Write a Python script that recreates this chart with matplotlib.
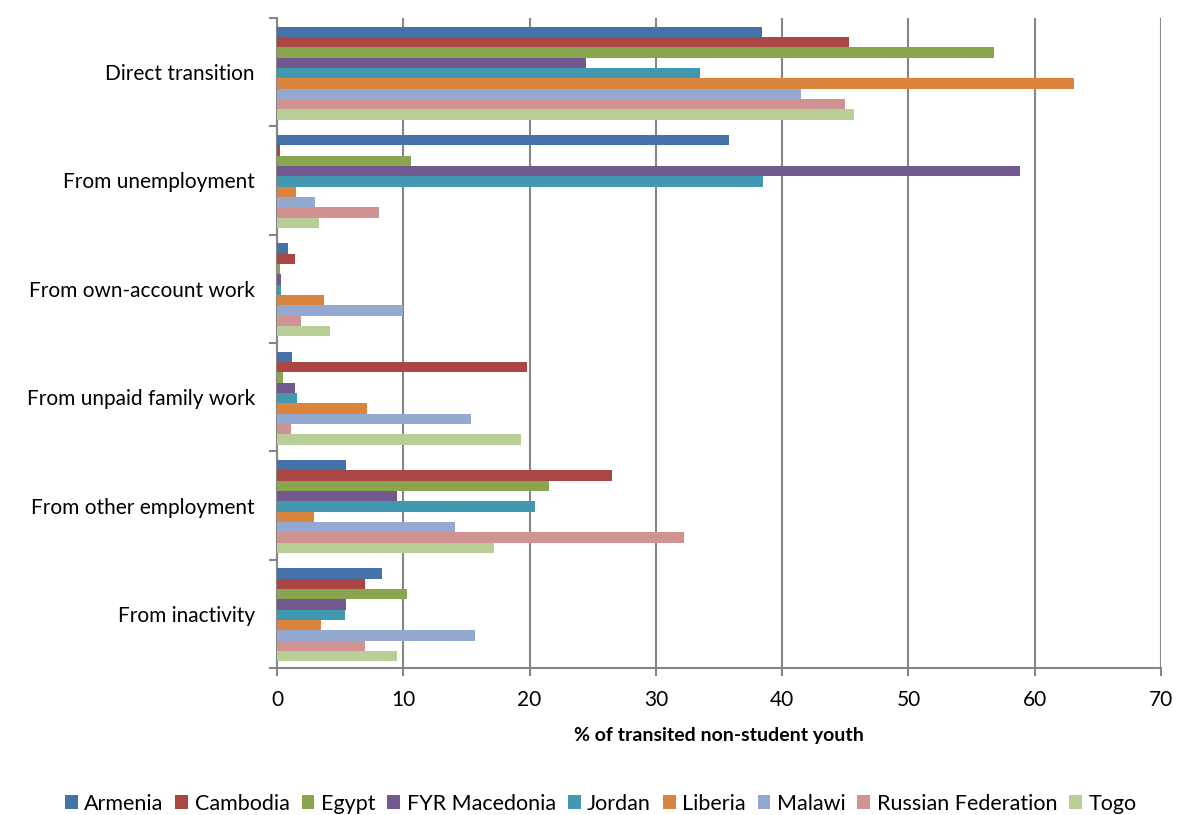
import numpy as np
import matplotlib
matplotlib.use("Agg")
import matplotlib.pyplot as plt

categories = ["Direct transition", "From unemployment", "From own-account work",
              "From unpaid family work", "From other employment", "From inactivity"]
countries = ["Armenia", "Cambodia", "Egypt", "FYR Macedonia", "Jordan",
             "Liberia", "Malawi", "Russian Federation", "Togo"]
colors = ["#4572A7", "#AA4643", "#89A54E", "#71588F", "#4198AF",
          "#DB843D", "#93A9CF", "#D19392", "#B9CD96"]

# values per country, in category order
armenia = [38.4, 35.8, 0.9, 1.2, 5.5, 8.3]
cambodia = [45.3, 0.2, 1.4, 19.8, 26.5, 7.0]
egypt = [56.8, 10.6, 0.2, 0.5, 21.5, 10.3]
macedonia = [24.5, 58.8, 0.35, 1.4, 9.5, 5.5]
jordan = [33.5, 38.5, 0.35, 1.6, 20.4, 5.4]
liberia = [63.1, 1.5, 3.7, 7.1, 2.9, 3.5]
malawi = [41.5, 3.0, 10.0, 15.4, 14.1, 15.7]
russia = [45.0, 8.1, 1.9, 1.1, 32.2, 7.0]
togo = [45.7, 3.3, 4.2, 19.3, 17.2, 9.5]
series = [armenia, cambodia, egypt, macedonia, jordan, liberia, malawi, russia, togo]

plt.rcParams['font.family'] = ['Lato', 'DejaVu Sans']

fig = plt.figure(figsize=(11.78, 8.15), dpi=100)
ax = fig.add_axes([277 / 1178, 1 - 668 / 815, (1161 - 277) / 1178, (668 - 18) / 815])

n = len(countries)
h = 1.0 / 10.5
y0 = np.arange(len(categories))
for i, (name, vals) in enumerate(zip(countries, series)):
    ys = y0 + (i - (n - 1) / 2) * h + 0.01
    ax.barh(ys, vals, height=h, color=colors[i], label=name, zorder=3)

ax.set_ylim(len(categories) - 0.5, -0.5)
ax.set_xlim(0, 70)
ax.set_xticks(range(0, 71, 10))
ax.set_yticks(y0)
ax.set_yticklabels(categories, fontsize=15)
ax.set_yticks(np.arange(-0.5, len(categories), 1), minor=True)
ax.tick_params(axis='y', which='major', length=0, pad=16)
ax.tick_params(axis='y', which='minor', length=6, color='#868686', width=1.5)
ax.tick_params(axis='x', length=6, color='#868686', width=1.5, labelsize=15, pad=10)
ax.grid(axis='x', color='#868686', linewidth=1.5, zorder=0)
for s in ['top', 'right']:
    ax.spines[s].set_visible(False)
for s in ['left', 'bottom']:
    ax.spines[s].set_color('#868686')
    ax.spines[s].set_linewidth(1.5)

ax.set_xlabel('% of transited non-student youth', fontsize=14, fontweight='bold', labelpad=12)

fig.legend(loc='lower center', bbox_to_anchor=(0.51, -0.022), ncol=9, frameon=False,
           fontsize=15.5, handlelength=0.6, handleheight=0.6, handletextpad=0.3,
           columnspacing=0.55)

fig.savefig("out.png", dpi=100)
